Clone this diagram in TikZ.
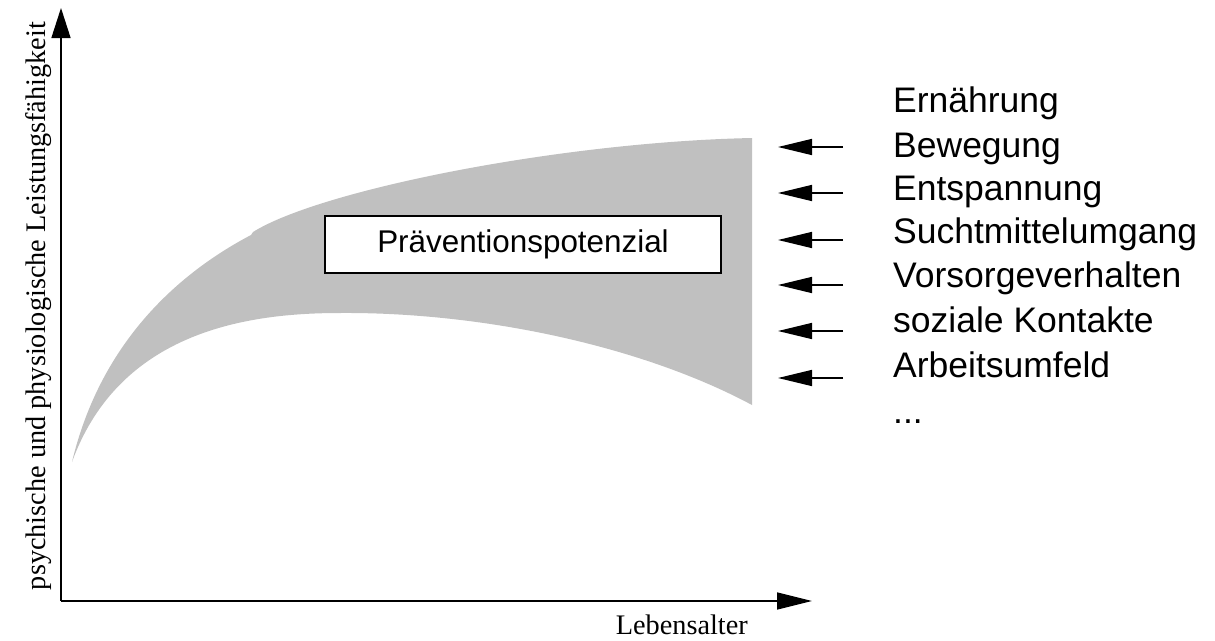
\documentclass[tikz,border=0pt]{standalone}
\usepackage{fontspec}
\setmainfont{Liberation Serif}
\newfontfamily\arialf{Liberation Sans}
\usetikzlibrary{arrows.meta}
\definecolor{band}{RGB}{192,192,192}
\begin{document}
\begin{tikzpicture}[x=1pt,y=-1pt,
  yaxis/.style={line width=1.5pt,-{Triangle[length=30pt,width=19pt]}},
  xaxis/.style={line width=1.5pt,-{Triangle[length=35pt,width=17pt]}},
  factorarrow/.style={line width=1.5pt,-{Triangle[length=34pt,width=16pt]}},
  lbl/.style={font=\arialf\fontsize{35.5}{42}\selectfont,anchor=base west,inner sep=0pt},
  axlbl/.style={font=\fontsize{28.3}{34}\selectfont,inner sep=0pt},
  boxnode/.style={draw,line width=2pt,fill=white,minimum width=396pt,minimum height=57pt,inner sep=0pt,
    font=\arialf\fontsize{31.4}{36}\selectfont},
]
\useasboundingbox (0,0) rectangle (1215,640);
% band
\fill[band] (72,462) .. controls (100,345) and (175,275) .. (251,235)
  -- (253,232) .. controls (320,190) and (560,142) .. (752,138)
  -- (752,405)
  .. controls (640,345) and (480,312) .. (340,313)
  .. controls (250,313) and (120,330) .. (72,462)
  -- cycle;
% axes
\coordinate (origin) at (61,601);
\coordinate (ytip) at (61,8);
\coordinate (xtip) at (812,601);
\draw[yaxis] (origin) -- (ytip);
\draw[xaxis] (origin) -- (xtip);
\node[axlbl,anchor=base,rotate=90] (ylab) at (45,306) {psychische und physiologische Leistungsfähigkeit};
\node[axlbl,anchor=base east] (xlab) at (748,634) {Lebensalter};
% box
\node[boxnode] (box) at (523,244.5) {Präventionspotenzial};
% factor labels
\node[lbl] (f1) at (893,112) {Ernährung};
\node[lbl] (f2) at (893,157) {Bewegung};
\node[lbl] (f3) at (893,200) {Entspannung};
\node[lbl] (f4) at (893,243) {Suchtmittelumgang};
\node[lbl] (f5) at (893,287) {Vorsorgeverhalten};
\node[lbl] (f6) at (893,332) {soziale Kontakte};
\node[lbl] (f7) at (893,377) {Arbeitsumfeld};
\node[lbl] (f8) at (893,423) {...};
% arrows
\foreach \i/\yy in {1/147,2/193,3/240,4/285,5/331,6/378}{
  \coordinate (s\i) at (843,\yy);
  \coordinate (e\i) at (778,\yy);
  \draw[factorarrow] (s\i) -- (e\i);
}
\end{tikzpicture}
\end{document}
